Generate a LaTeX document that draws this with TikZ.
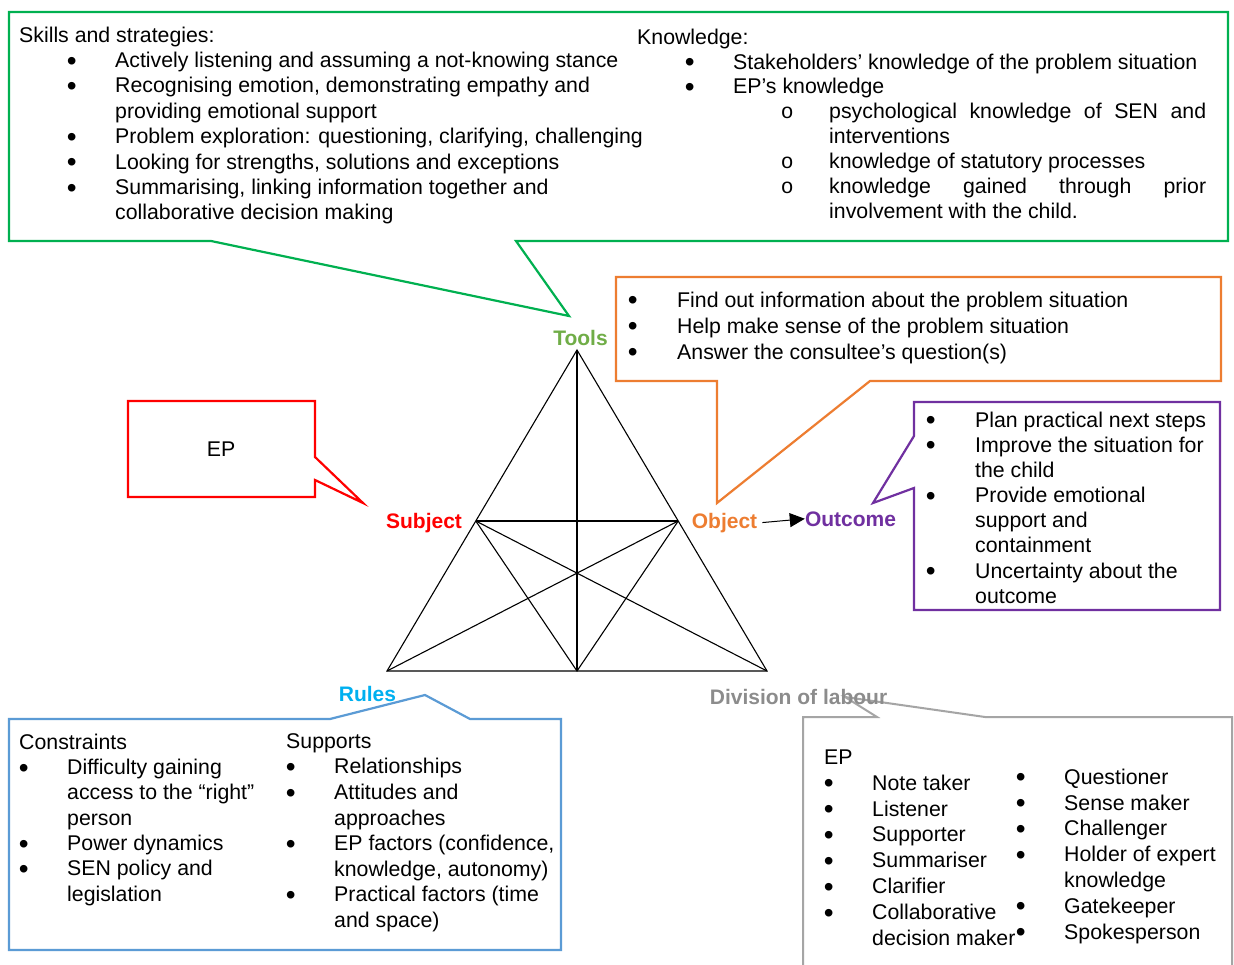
\documentclass[tikz,border=0pt]{standalone}
\usepackage{fontspec}
\setmainfont{Liberation Sans}
\newfontfamily\monofont{Liberation Mono}
\usetikzlibrary{arrows.meta}

\definecolor{boxgreen}{HTML}{00B050}
\definecolor{toolsgreen}{HTML}{70AD47}
\definecolor{objorange}{HTML}{ED7D31}
\definecolor{subjred}{HTML}{FF0000}
\definecolor{outpurple}{HTML}{7030A0}
\definecolor{rulesblue}{HTML}{00B0F0}
\definecolor{boxblue}{HTML}{5B9BD5}
\definecolor{labourgrey}{HTML}{8C8C8C}
\definecolor{boxgrey}{HTML}{A5A5A5}

% round bullet, centred on the x-height of the text
\newcommand\dotmark{\smash{\raisebox{-2.6pt}{\fontsize{28}{28}\selectfont\textbullet}}}
% bullet item: #1 indent of the bullet, #2 distance from bullet to text
\newcommand\bl[2]{\hspace*{#1}\makebox[#2][l]{\hspace*{-1.4pt}\dotmark}}
% hollow sub-bullet
\newcommand\sbl[2]{\hspace*{#1}\makebox[#2][l]{\makebox[12.6pt]{\monofont o}}}
% fixed height of the first line, so that the node top is 17pt above its baseline
\newcommand\fl{\rule{0pt}{17pt}}

\tikzset{
  body/.style={inner sep=0pt, anchor=north west, align=left,
    font=\fontsize{21.3}{#1}\selectfont},
  body/.default=25.4,
  lab/.style={inner sep=0pt, anchor=base, font=\fontsize{21}{25}\selectfont\bfseries},
  callout/.style={line width=2.2pt, line join=miter, fill=white},
  tri/.style={line width=1.1pt, black, line join=miter},
}

\begin{document}
\begin{tikzpicture}[x=1pt,y=-1pt]
\useasboundingbox (0,0) rectangle (1234,965);
\fill[white] (0,0) rectangle (1234,965);

% activity triangle
\coordinate (T)  at (577,350);
\coordinate (S)  at (475.8,521);
\coordinate (O)  at (678.2,521);
\coordinate (BL) at (387,671);
\coordinate (BR) at (767,671);
\coordinate (BM) at (577,671);
\draw[tri] (T) -- (BL) -- (BR) -- cycle;
\draw[tri] (T) -- (BM);
\draw[tri] (S) -- (O);
\draw[tri] (S) -- (BM) -- (O);
\draw[tri] (S) -- (BR);
\draw[tri] (O) -- (BL);

% callout boxes
\draw[callout, draw=boxgreen] (9,12) -- (1228,12) -- (1228,241) -- (516,241) -- (569,316)
  -- (211,241) -- (9,241) -- cycle;
\draw[callout, draw=objorange] (616,277) -- (1221,277) -- (1221,381) -- (870,381) -- (717,503)
  -- (717,381) -- (616,381) -- cycle;
\draw[callout, draw=subjred] (128,401) -- (315,401) -- (315,457) -- (363,503) -- (315,480)
  -- (315,497) -- (128,497) -- cycle;
\draw[callout, draw=outpurple] (914,402) -- (1220,402) -- (1220,610) -- (914,610) -- (914,488)
  -- (873,503) -- (914,436) -- cycle;
\draw[callout, draw=boxblue] (9,719) -- (330,719) -- (425,695) -- (470,719) -- (561,719)
  -- (561,950) -- (9,950) -- cycle;
\draw[callout, draw=boxgrey, line width=2pt] (803,966) -- (803,717) -- (877,717) -- (845,697)
  -- (985,717) -- (1232,717) -- (1232,966);

% tools
\node[body] (skills) at (19,25) {\fl Skills and strategies:\\
\bl{49pt}{47pt}Actively listening and assuming a not-knowing stance\\
\bl{49pt}{47pt}Recognising emotion, demonstrating empathy and\\
\hspace*{96pt}providing emotional support\\
\bl{49pt}{47pt}Problem exploration: questioning, clarifying, challenging\\
\bl{49pt}{47pt}Looking for strengths, solutions and exceptions\\
\bl{49pt}{47pt}Summarising, linking information together and\\
\hspace*{96pt}collaborative decision making};

\node[body=24.9] (knowledge) at (637,27) {\fl Knowledge:\\
\bl{49pt}{47pt}Stakeholders’ knowledge of the problem situation\\
\bl{49pt}{47pt}EP’s knowledge\\
\sbl{143.7pt}{48.3pt}\hbox to 377pt{psychological\hfill knowledge\hfill of\hfill SEN\hfill and}\\
\hspace*{192pt}interventions\\
\sbl{143.7pt}{48.3pt}knowledge of statutory processes\\
\sbl{143.7pt}{48.3pt}\hbox to 377pt{knowledge\hfill gained\hfill through\hfill prior}\\
\hspace*{192pt}involvement with the child.};

% object
\node[body=26] (objtext) at (629,290) {\fl\bl{0pt}{48pt}Find out information about the problem situation\\
\bl{0pt}{48pt}Help make sense of the problem situation\\
\bl{0pt}{48pt}Answer the consultee’s question(s)};

% subject
\node[inner sep=0pt, font=\fontsize{21.3}{25}\selectfont] (ep) at (221,449) {EP};

% outcome
\node[body=25.14] (outtext) at (927,410) {\fl\bl{0pt}{48pt}Plan practical next steps\\
\bl{0pt}{48pt}Improve the situation for\\
\hspace*{48pt}the child\\
\bl{0pt}{48pt}Provide emotional\\
\hspace*{48pt}support and\\
\hspace*{48pt}containment\\
\bl{0pt}{48pt}Uncertainty about the\\
\hspace*{48pt}outcome};

% rules
\node[body=25.3] (constraints) at (19,732) {\fl Constraints\\
\bl{1pt}{47pt}Difficulty gaining\\
\hspace*{48pt}access to the “right”\\
\hspace*{48pt}person\\
\bl{1pt}{47pt}Power dynamics\\
\bl{1pt}{47pt}SEN policy and\\
\hspace*{48pt}legislation};

\node[body=25.6] (supports) at (286,731) {\fl Supports\\
\bl{1pt}{47pt}Relationships\\
\bl{1pt}{47pt}Attitudes and\\
\hspace*{48pt}approaches\\
\bl{1pt}{47pt}EP factors (confidence,\\
\hspace*{48pt}knowledge, autonomy)\\
\bl{1pt}{47pt}Practical factors (time\\
\hspace*{48pt}and space)};

% division of labour
\node[body=25.9] (roles) at (824,747) {\fl EP\\
\bl{1pt}{47pt}Note taker\\
\bl{1pt}{47pt}Listener\\
\bl{1pt}{47pt}Supporter\\
\bl{1pt}{47pt}Summariser\\
\bl{1pt}{47pt}Clarifier\\
\bl{1pt}{47pt}Collaborative\\
\hspace*{48pt}decision maker};

\node[body=25.8] (moreroles) at (1017,767) {\fl\bl{0pt}{47pt}Questioner\\
\bl{0pt}{47pt}Sense maker\\
\bl{0pt}{47pt}Challenger\\
\bl{0pt}{47pt}Holder of expert\\
\hspace*{47pt}knowledge\\
\bl{0pt}{47pt}Gatekeeper\\
\bl{0pt}{47pt}Spokesperson};

% triangle labels
\node[lab, text=toolsgreen] (tools) at (580.5,346) {Tools};
\node[lab, text=subjred] (subject) at (424,528) {Subject};
\node[lab, text=objorange] (object) at (724.5,528) {Object};
\node[lab, text=outpurple] (outcome) at (850.5,526) {Outcome};
\node[lab, text=rulesblue] (rules) at (367.5,701) {Rules};
\node[lab, text=labourgrey] (division) at (798.5,704) {Division of labour};

\draw[line width=1pt, -{Triangle[length=15pt,width=14pt]}]
  ([xshift=5pt]object.east) -- (outcome.west);
\end{tikzpicture}
\end{document}
